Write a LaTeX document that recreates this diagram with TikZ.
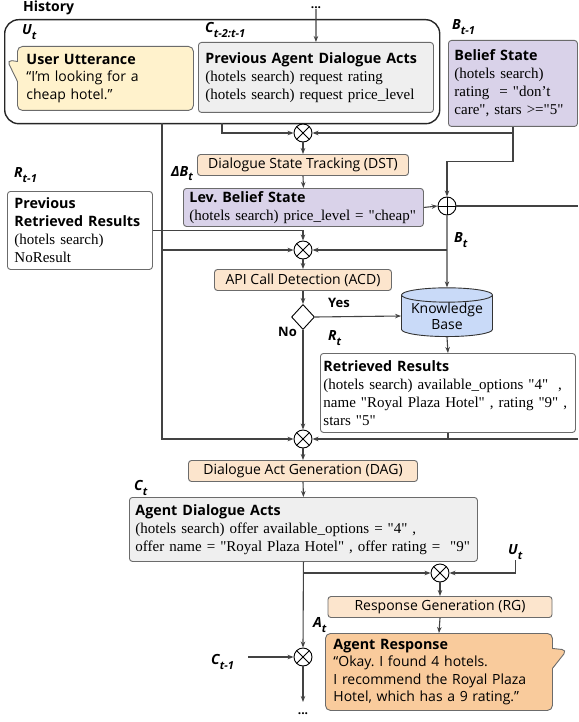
\documentclass[tikz,border=0pt]{standalone}
\usepackage{fontspec}
\setmainfont{Liberation Serif}
\setsansfont{Open Sans}
\usepackage{tikz}
\usetikzlibrary{arrows.meta,positioning,calc,shapes.geometric,shapes.callouts}
\definecolor{linegray}{HTML}{434343}
\definecolor{edgegray}{HTML}{6B6B6B}
\definecolor{userfill}{HTML}{FFF2CC}
\definecolor{actfill}{HTML}{EFEFEF}
\definecolor{statefill}{HTML}{D9D2E9}
\definecolor{procfill}{HTML}{FCE5CD}
\definecolor{kbfill}{HTML}{C9DAF8}
\definecolor{respfill}{HTML}{F9CB9C}
\frenchspacing
\newcommand{\hd}[1]{{\fontsize{14.3}{18}\sffamily\bfseries #1}}
\newcommand{\qt}{\textquotedbl}
\newcommand{\sub}[2]{#1\raisebox{-5pt}{\fontsize{11}{11}\selectfont #2}}
\tikzset{
    >={Stealth[length=6pt,width=4.5pt]},
    conn/.style={draw=linegray,line width=1.1pt},
    card/.style={draw=edgegray,line width=0.9pt,rounded corners=3pt,anchor=north west,align=left,inner ysep=2pt,font=\fontsize{15}{18}\selectfont},
    bubble/.style={rectangle callout,draw=edgegray,line width=0.9pt,rounded corners=5pt,anchor=north west,align=left,inner ysep=2pt,callout pointer width=20pt,font=\fontsize{14}{17.5}\sffamily},
    proc/.style={draw=edgegray,fill=procfill,line width=0.9pt,rounded corners=3pt,inner sep=0pt,minimum height=21pt,font=\fontsize{14}{16}\sffamily},
    mult/.style={circle,draw=black,fill=white,line width=0.9pt,minimum size=18pt,inner sep=0pt,
        path picture={\draw[line width=0.9pt] (path picture bounding box.south west) -- (path picture bounding box.north east)
            (path picture bounding box.north west) -- (path picture bounding box.south east);}},
    plus/.style={circle,draw=black,fill=white,line width=0.9pt,minimum size=18pt,inner sep=0pt,
        path picture={\draw[line width=0.9pt] (path picture bounding box.north) -- (path picture bounding box.south)
            (path picture bounding box.west) -- (path picture bounding box.east);}},
    sym/.style={font=\fontsize{14}{14}\sffamily\bfseries\itshape,inner sep=1pt,anchor=base west},
    tag/.style={font=\fontsize{13}{13}\sffamily\bfseries,inner sep=1pt,anchor=base west}
}

\begin{document}
\begin{tikzpicture}[x=1pt,y=-1pt]
        \useasboundingbox (0,0) rectangle (578,722);

        % History
        \node[draw=black!85,line width=1.4pt,rounded corners=14pt,anchor=north west,minimum width=435pt,minimum height=104pt] (hist) at (4,19) {};
        \node[tag,font=\fontsize{14}{14}\sffamily\bfseries] (histlbl) at (22,12) {History};
        \node[sym] (ut1) at (21,35) {\sub{U}{t}};
        \node[bubble,fill=userfill,callout absolute pointer={(7,60)},minimum width=176pt,minimum height=64pt,text width=158pt,inner xsep=9pt] (ua) at (17,46)
            {\hd{User Utterance}\\“I’m looking for a\\cheap hotel.”};
        \node[sym] (cprev) at (204,33) {\sub{C}{t-2:t-1}};
        \node[card,fill=actfill,minimum height=70pt,text width=221pt,inner xsep=7pt] (pada) at (198,42)
            {\hd{Previous Agent Dialogue Acts}\\(hotels search) request rating\\(hotels search) request price\_level};
        \node[font=\fontsize{12}{12}\sffamily\bfseries,inner sep=0pt,anchor=south] (dotsin) at (316,9) {...};
        \coordinate (hleft) at (162,123);
        \coordinate (hmid) at (222,123);

        % Belief state
        \node[sym] (btm1) at (451,30) {\sub{B}{t-1}};
        \node[card,fill=statefill,minimum height=86pt,text width=117pt,inner xsep=6pt] (bs) at (448,40)
            {\hd{Belief State}\\(hotels search)\\rating~ = \qt don’t\\care\qt, stars >=\qt5\qt};

        % DST
        \node[mult] (m1) at (303,133) {};
        \node[proc,minimum width=211pt] (dst) at (303,165) {Dialogue State Tracking (DST)};
        \node[sym] (dbt) at (170,176) {\sub{ΔB}{t}};
        \node[card,fill=statefill,minimum height=38pt,text width=228pt,inner xsep=6pt] (lbs) at (183,188)
            {\hd{Lev. Belief State}\\(hotels search) price\_level = \qt cheap\qt};
        \node[plus] (sum) at (447,206) {};
        \coordinate (eastB) at (578,206);
        \node[sym] (bt) at (453,242) {\sub{B}{t}};

        % Previous retrieved results
        \node[sym] (rtm1) at (13,178) {\sub{R}{t-1}};
        \node[card,fill=white,minimum height=78pt,text width=131pt,inner xsep=7pt] (prr) at (7,191)
            {\hd{Previous}\\\hd{Retrieved Results}\\(hotels search)\\NoResult};

        % ACD
        \node[mult] (m2) at (303,250) {};
        \node[proc,minimum width=177pt] (acd) at (303,280) {API Call Detection (ACD)};
        \node[diamond,draw=black,fill=white,line width=0.9pt,minimum width=23pt,minimum height=25pt,inner sep=0pt] (dec) at (303,317) {};
        \node[tag] (yes) at (327,307) {Yes};
        \node[tag] (no) at (277,336) {No};
        \node[cylinder,shape border rotate=90,aspect=0.2,draw=black!80,fill=kbfill,line width=0.9pt,minimum width=91pt,minimum height=47pt,inner sep=0pt,align=center,font=\fontsize{14}{16}\sffamily] (kb) at (447,316)
            {Knowledge\\Base};
        \node[sym] (rt) at (327,340) {\sub{R}{t}};
        \node[card,fill=white,minimum height=79pt,text width=249pt,inner xsep=3pt] (rr) at (320,353)
            {\hd{Retrieved Results}\\(hotels search) available\_options \qt4\qt~ ,\\name \qt Royal Plaza Hotel\qt{} , rating \qt9\qt{} ,\\stars \qt5\qt};
        \coordinate (eastR) at (578,439);

        % DAG
        \node[mult] (m3) at (303,439) {};
        \node[proc,minimum width=229pt] (dag) at (303,471) {Dialogue Act Generation (DAG)};
        \node[sym] (ct) at (133,490) {\sub{C}{t}};
        \node[card,fill=actfill,minimum height=64pt,text width=336pt,inner xsep=6pt] (ada) at (129,497)
            {\hd{Agent Dialogue Acts}\\(hotels search) offer available\_options = \qt4\qt{} ,\\offer name = \qt Royal Plaza Hotel\qt{} , offer rating = ~\qt9\qt};

        % RG
        \node[sym] (ut2) at (507,554) {\sub{U}{t}};
        \node[mult] (m5) at (440,573) {};
        \node[proc,minimum width=224pt] (rg) at (440,607) {Response Generation (RG)};
        \node[sym] (at) at (312,627) {\sub{A}{t}};
        \node[bubble,fill=respfill,callout absolute pointer={(567,650)},minimum width=227pt,minimum height=77pt,text width=211pt,inner xsep=8pt] (ar) at (325,633)
            {\hd{Agent Response}\\“Okay. I found 4 hotels.\\I recommend the Royal Plaza\\Hotel, which has a 9 rating.”};
        \node[sym] (ctm1) at (210,664) {\sub{C}{t-1}};
        \node[mult] (m4) at (303,657) {};
        \node[font=\fontsize{12}{12}\sffamily\bfseries,inner sep=0pt,anchor=north,text height=12pt,text depth=0pt] (dotsout) at (303,702) {...};

        % Connectors
        \draw[conn,->] (dotsin.south) -- (pada.north);
        \draw[conn,->] (hmid) |- (m1.west);
        \draw[conn,->] (bs.south) -- ++(0,35) -| (sum.north);
        \draw[conn,->] (bs.south |- m1) -- (m1.east);
        \draw[conn,->] (m1.south) -- (dst.north);
        \draw[conn,->] (dst.south) -- (lbs.north);
        \draw[conn,->] (lbs.east) -- (sum.west);
        \draw[conn] (sum.east) -- (eastB);
        \draw[conn,->] (sum.south) -- (kb.north);
        \draw[conn,->] (sum.south |- m2) -- (m2.east);
        \draw[conn,->] (prr.east) -| (m2.north);
        \draw[conn,->] (hleft) |- (m3.west);
        \draw[conn,->] (hleft |- m2) -- (m2.west);
        \draw[conn,->] (m2.south) -- (acd.north);
        \draw[conn,->] (acd.south) -- (dec.north);
        \draw[conn,->] (dec.east) -- (kb.west);
        \draw[conn,->] (dec.south) -- (m3.north);
        \draw[conn,->] (kb.south) -- (rr.north);
        \draw[conn] (rr.south) -- (rr.south |- m3);
        \draw[conn,->] (eastR) -- (m3.east);
        \draw[conn,->] (m3.south) -- (dag.north);
        \draw[conn,->] (dag.south) -- (ada.north);
        \draw[conn,->] (ada.south) -- (m4.north);
        \draw[conn,->] (ada.south |- m5) -- (m5.west);
        \draw[conn,->] (ut2.south) |- (m5.east);
        \draw[conn,->] (m5.south) -- (rg.north);
        \draw[conn,->] (rg.south) -- (ar.north);
        \draw[conn,->] ([xshift=13pt]ctm1.east |- m4) -- (m4.west);
        \draw[conn,->] (m4.south) -- (dotsout.north);
    \end{tikzpicture}
\end{document}
